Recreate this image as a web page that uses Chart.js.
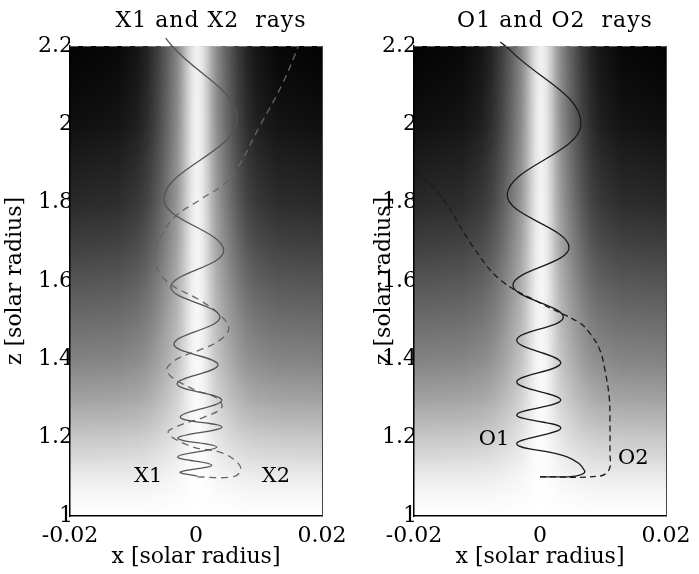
<!DOCTYPE html>
<html>
<head>
<meta charset="utf-8">
<script src="https://cdn.jsdelivr.net/npm/chart.js@4.4.1/dist/chart.umd.min.js"></script>
<style>
  body { margin: 0; background: #fff; }
  #wrap { position: relative; width: 699px; height: 574px; }
  .box { position: absolute; top: 0; height: 574px; }
  #left { left: 0; width: 350px; }
  #right { left: 350px; width: 349px; }
</style>
</head>
<body>
<div id="wrap">
  <div class="box" id="left"><canvas id="chartX"></canvas></div>
  <div class="box" id="right"><canvas id="chartO"></canvas></div>
</div>
<script>
const xTicks = [-0.02, 0, 0.02];
const xTickLabels = ["-0.02", "0", "0.02"];
const zTicks = [1, 1.2, 1.4, 1.6, 1.8, 2, 2.2];
const zTickLabels = ["1", "1.2", "1.4", "1.6", "1.8", "2", "2.2"];

// ray paths, [x, z]
const rayX1 = [
  [0.0002, 1.102], [-0.0025, 1.112], [0.0025, 1.130], [-0.0029, 1.151], [0.0033, 1.176],
  [-0.0029, 1.199], [0.0041, 1.227], [-0.0025, 1.253], [0.0041, 1.296], [-0.0030, 1.337],
  [0.0035, 1.386], [-0.0035, 1.439], [0.0038, 1.508], [-0.0040, 1.585], [0.0044, 1.679],
  [-0.0051, 1.812], [0.0065, 2.011], [-0.0038, 2.200], [-0.0048, 2.220]
];
const rayX2 = [
  [0.0002, 1.100], [0.0059, 1.100], [0.0071, 1.117], [0.0065, 1.138], [0.0038, 1.163],
  [-0.0005, 1.176], [-0.0044, 1.212], [-0.0025, 1.232], [0.0014, 1.253], [0.0041, 1.278],
  [0.0030, 1.304], [-0.0002, 1.322], [-0.0046, 1.368], [-0.0033, 1.398], [0.0006, 1.424],
  [0.0038, 1.449], [0.0052, 1.480], [0.0035, 1.518], [0.0006, 1.551], [-0.0049, 1.603],
  [-0.0065, 1.661], [-0.0052, 1.723], [-0.0030, 1.769], [0.0006, 1.807], [0.0054, 1.863],
  [0.0102, 1.998], [0.0138, 2.106], [0.0162, 2.197]
];
const rayO1 = [
  [0, 1.100], [0.0056, 1.102], [0.0071, 1.115], [0.0043, 1.151], [-0.0037, 1.184],
  [0.0033, 1.225], [-0.0037, 1.258], [0.0033, 1.296], [-0.0037, 1.342], [0.0033, 1.391],
  [-0.0037, 1.449], [0.0037, 1.508], [-0.0043, 1.590], [0.0046, 1.687], [-0.0052, 1.822],
  [0.0065, 2.001], [-0.0048, 2.190], [-0.0063, 2.210]
];
const rayO2 = [
  [0, 1.100], [0.0095, 1.102], [0.0110, 1.120], [0.0111, 1.161], [0.0111, 1.245],
  [0.0110, 1.301], [0.0103, 1.373], [0.0095, 1.424], [0.0079, 1.467], [0.0063, 1.493],
  [0, 1.544], [-0.0063, 1.603], [-0.0106, 1.687], [-0.0159, 1.820], [-0.0200, 1.883]
];

// background brightness: darkness across x, and how strong it is with height z
const bgX = [-0.02, -0.0125, -0.0093, -0.0077, -0.0061, -0.0046, -0.0038, -0.003, -0.0022, -0.0014, -0.0006,
  0.0002, 0.001, 0.0018, 0.0026, 0.0034, 0.0042, 0.005, 0.0065, 0.0081, 0.0097, 0.0129, 0.02];
const bgShade = [1, 0.98, 0.93, 0.87, 0.77, 0.64, 0.56, 0.48, 0.36, 0.22, 0.10,
  0.05, 0.10, 0.22, 0.36, 0.48, 0.56, 0.64, 0.77, 0.87, 0.93, 0.98, 1];
const bgZ = [1.0, 1.05, 1.1, 1.2, 1.3, 1.4, 1.5, 1.6, 1.7, 1.8, 1.9, 2.0, 2.1, 2.2];
const bgFade = [0, 0.03, 0.08, 0.22, 0.37, 0.49, 0.58, 0.67, 0.76, 0.84, 0.89, 0.94, 0.97, 0.99];

const labelsX = [{text: "X1", x: -0.0076, z: 1.10}, {text: "X2", x: 0.0127, z: 1.10}];
const labelsO = [{text: "O1", x: -0.0073, z: 1.194}, {text: "O2", x: 0.0148, z: 1.146}];

const FONT = '"DejaVu Serif", serif';

const shading = {
  id: "shading",
  beforeDraw(chart) {
    const {ctx, chartArea: a, scales: {x, y}} = chart;
    const w = Math.round(a.right - a.left), h = Math.round(a.bottom - a.top);
    const off = document.createElement("canvas");
    off.width = w; off.height = h;
    const o = off.getContext("2d");
    const gx = o.createLinearGradient(0, 0, w, 0);
    bgX.forEach((v, i) => {
      const t = Math.min(1, Math.max(0, (x.getPixelForValue(v) - a.left) / w));
      gx.addColorStop(t, "rgba(0,0,0," + bgShade[i] + ")");
    });
    o.fillStyle = gx;
    o.fillRect(0, 0, w, h);
    o.globalCompositeOperation = "destination-in";
    const gy = o.createLinearGradient(0, 0, 0, h);
    bgZ.forEach((v, i) => {
      const t = Math.min(1, Math.max(0, (y.getPixelForValue(v) - a.top) / h));
      gy.addColorStop(t, "rgba(0,0,0," + bgFade[i] + ")");
    });
    o.fillStyle = gy;
    o.fillRect(0, 0, w, h);
    ctx.save();
    ctx.fillStyle = "#fff";
    ctx.fillRect(a.left, a.top, w, h);
    ctx.drawImage(off, a.left, a.top);
    ctx.restore();
  }
};

const panelText = {
  id: "panelText",
  afterDatasetsDraw(chart, args, opts) {
    const {ctx, chartArea: a, scales: {x, y}} = chart;
    ctx.save();
    // right edge and faint top edge of the frame
    ctx.strokeStyle = "#444";
    ctx.lineWidth = 1;
    ctx.beginPath();
    ctx.moveTo(a.right + 0.5, a.top);
    ctx.lineTo(a.right + 0.5, a.bottom);
    ctx.stroke();
    ctx.strokeStyle = "rgba(200,200,200,0.45)";
    ctx.setLineDash([8, 5]);
    ctx.beginPath();
    ctx.moveTo(a.left, a.top + 0.5);
    ctx.lineTo(a.right, a.top + 0.5);
    ctx.stroke();
    ctx.setLineDash([]);

    ctx.fillStyle = "#000";
    ctx.font = "21px " + FONT;
    ctx.textAlign = "center";
    ctx.textBaseline = "middle";
    opts.labels.forEach(l => ctx.fillText(l.text, x.getPixelForValue(l.x), y.getPixelForValue(l.z)));
    ctx.font = "22px " + FONT;
    ctx.letterSpacing = "1px";
    ctx.textBaseline = "alphabetic";
    ctx.fillText(opts.title, (a.left + a.right) / 2 + 15, 27);
    ctx.letterSpacing = "0px";
    ctx.restore();
  }
};

function lineSet(points, color, dash) {
  return {
    data: points.map(([x, z]) => ({x: x, y: z})),
    showLine: true,
    borderColor: color,
    borderWidth: 1.3,
    borderDash: dash,
    tension: 0.4,
    pointRadius: 0,
    fill: false,
    clip: false
  };
}

function rayChart(id, sets, padRight, yWidth, yTitlePad, title, labels) {
  const tickFont = {family: FONT, size: 22};
  return new Chart(document.getElementById(id), {
    type: "scatter",
    data: {datasets: sets},
    plugins: [shading, panelText],
    options: {
      responsive: true,
      maintainAspectRatio: false,
      animation: false,
      layout: {padding: {left: 0, right: padRight, top: 46, bottom: 0}},
      elements: {line: {capBezierPoints: false}},
      plugins: {
        legend: {display: false},
        tooltip: {enabled: false},
        panelText: {title: title, labels: labels}
      },
      scales: {
        x: {
          type: "linear",
          min: -0.02,
          max: 0.02,
          afterBuildTicks: s => { s.ticks = xTicks.map(v => ({value: v})); },
          afterFit: s => { s.height = 58; s.paddingLeft = 0; s.paddingRight = 0; },
          ticks: {
            callback: (v, i) => xTickLabels[i],
            font: tickFont, color: "#000", padding: 7, maxRotation: 0, autoSkip: false
          },
          grid: {display: false, drawTicks: false},
          border: {display: true, color: "#000", width: 1.5},
          title: {display: true, text: "x [solar radius]", font: tickFont, color: "#000", padding: {top: 0, bottom: 4}}
        },
        y: {
          type: "linear",
          min: 1,
          max: 2.2,
          afterBuildTicks: s => { s.ticks = zTicks.map(v => ({value: v})); },
          afterFit: s => { s.width = yWidth; },
          ticks: {
            callback: (v, i) => zTickLabels[i],
            font: tickFont, color: "#000", padding: -3, autoSkip: false
          },
          grid: {display: false, drawTicks: false},
          border: {display: true, color: "#000", width: 1.5},
          title: {display: true, text: "z [solar radius]", font: tickFont, color: "#000", padding: {top: yTitlePad, bottom: 0}}
        }
      }
    }
  });
}

rayChart("chartX", [
  lineSet(rayX1, "#555", []),
  lineSet(rayX2, "#666", [7, 5])
], 28, 70, 2, "X1 and X2  rays", labelsX);

rayChart("chartO", [
  lineSet(rayO1, "#1a1a1a", []),
  lineSet(rayO2, "#1a1a1a", [6, 4])
], 33, 64, 21, "O1 and O2  rays", labelsO);
</script>
</body>
</html>
